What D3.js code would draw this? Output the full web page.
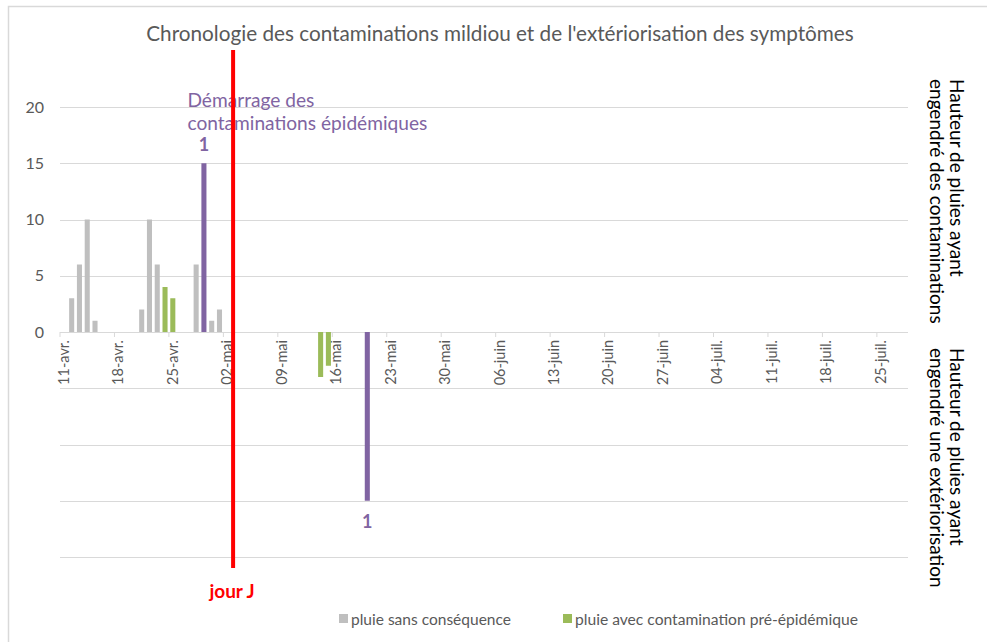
<!DOCTYPE html>
<html><head><meta charset="utf-8">
<script src="https://cdn.jsdelivr.net/npm/d3@7"></script>
<style>body{margin:0;background:#fff;} svg{display:block;font-family:Lato,"Open Sans",sans-serif;}</style>
</head><body>
<script>
// ---- data ----
const title = "Chronologie des contaminations mildiou et de l'extériorisation des symptômes";
const startDate = "2021-04-11", endDate = "2021-07-28";
const yTicks = [0, 5, 10, 15, 20];
const greyDates = ["2021-04-12","2021-04-13","2021-04-14","2021-04-15","2021-04-21","2021-04-22","2021-04-23","2021-04-28","2021-04-30","2021-05-01"];
const greyValues = [3, 6, 10, 1, 2, 10, 6, 6, 1, 2];
const greenDates = ["2021-04-24","2021-04-25"];
const greenValues = [4, 3];
const purpleDates = ["2021-04-29"];
const purpleValues = [15];
const greenExtDates = ["2021-05-14","2021-05-15"];
const greenExtValues = [4, 3];
const purpleExtDates = ["2021-05-20"];
const purpleExtValues = [15];
const jourJ = "2021-05-03";
const legendLabels = ["pluie sans conséquence", "pluie avec contamination pré-épidémique"];
const rightTitles = [["Hauteur de pluies ayant","engendré des contaminations"],["Hauteur de pluies ayant","engendré une extériorisation"]];
const moisFr = ["janv.","févr.","mars","avr.","mai","juin","juil.","août","sept.","oct.","nov.","déc."];

const C = {grey:"#BFBFBF", green:"#9BBB59", purple:"#8064A2", red:"#FF0000", text:"#595959", grid:"#D9D9D9"};

const W = 987, H = 642;
const svg = d3.select("body").append("svg").attr("width", W).attr("height", H);

const parse = d3.utcParse("%Y-%m-%d");
const days = d3.utcDay.range(parse(startDate), d3.utcDay.offset(parse(endDate), 1));
const key = d => d3.utcFormat("%Y-%m-%d")(d);
const x = d3.scaleBand().domain(days.map(key)).range([60, 908]).paddingInner(0.35).paddingOuter(0.175);
const y = d3.scaleLinear().domain([-20, 20]).range([557, 107]);

function fit(sel, target) {
  const w = sel.node().getComputedTextLength();
  const fs = parseFloat(sel.style("font-size"));
  sel.style("font-size", (fs * target / w).toFixed(2) + "px");
}

// chart border (top & left)
svg.append("path").attr("d", "M8.5,642 V6.5 H987").attr("fill","none").attr("stroke", "#D9D9D9").attr("stroke-width", 1.5);

// gridlines
const gridVals = [-20,-15,-10,-5,5,10,15,20];
svg.append("g").selectAll("line").data(gridVals).join("line")
  .attr("x1", 60).attr("x2", 908).attr("y1", d => Math.round(y(d))+0.5).attr("y2", d => Math.round(y(d))+0.5)
  .attr("stroke", C.grid).attr("stroke-width", 1);

// y labels (top only)
svg.append("g").selectAll("text").data(yTicks).join("text")
  .attr("x", 44).attr("y", d => y(d)).attr("dy", "0.35em").attr("text-anchor","end")
  .attr("fill", C.text).style("font-size","16px").text(d => d);

// x axis line and ticks
const x0 = y(0);
svg.append("line").attr("x1",60).attr("x2",908).attr("y1",Math.round(x0)+0.5).attr("y2",Math.round(x0)+0.5).attr("stroke",C.grid);
const weekly = days.filter((d,i) => i % 7 === 0);
svg.append("g").selectAll("line").data(weekly).join("line")
  .attr("x1", d => x(key(d)) - (x.step()-x.bandwidth())/2).attr("x2", d => x(key(d)) - (x.step()-x.bandwidth())/2)
  .attr("y1", Math.round(x0)).attr("y2", Math.round(x0)+5).attr("stroke", C.grid);
svg.append("g").selectAll("text").data(weekly).join("text")
  .attr("transform", d => `translate(${x(key(d)) + x.bandwidth()/2 + 5},${x0 + 8}) rotate(-90)`)
  .attr("text-anchor","end").attr("fill", C.text).style("font-size","14.5px")
  .text(d => d3.utcFormat("%d")(d) + "-" + moisFr[d.getUTCMonth()]);

// bars
function bars(dates, vals, color, sign) {
  svg.append("g").selectAll("rect").data(dates.map((d,i)=>({d, v: vals[i]}))).join("rect")
    .attr("x", d => x(d.d)).attr("width", x.bandwidth())
    .attr("y", d => sign > 0 ? y(d.v) : y(0))
    .attr("height", d => Math.abs(y(sign*d.v) - y(0)))
    .attr("fill", color);
}
bars(greyDates, greyValues, C.grey, 1);
bars(greenDates, greenValues, C.green, 1);
bars(purpleDates, purpleValues, C.purple, 1);
bars(greenExtDates, greenExtValues, C.green, -1);
bars(purpleExtDates, purpleExtValues, C.purple, -1);

// data labels "1"
const cx = k => x(k) + x.bandwidth()/2;
svg.append("text").attr("x", cx(purpleDates[0])).attr("y", y(purpleValues[0]) - 12)
  .attr("text-anchor","middle").attr("fill", C.purple).style("font-size","18px").style("font-weight","bold").text("1");
svg.append("text").attr("x", cx(purpleExtDates[0])).attr("y", y(-purpleExtValues[0]) + 27)
  .attr("text-anchor","middle").attr("fill", C.purple).style("font-size","18px").style("font-weight","bold").text("1");

// annotation
const annX = cx(purpleDates[0]) - 16.5;
const a1 = svg.append("text").attr("fill", C.purple).attr("x", annX).attr("y", 107).style("font-size","18px").text("Démarrage des");
const a2 = svg.append("text").attr("fill", C.purple).attr("x", annX).attr("y", 130).style("font-size","18px").text("contaminations épidémiques");
fit(a2, 240);
a1.style("font-size", a2.style("font-size"));

// red line jour J
const jx = x(jourJ) - (x.step()-x.bandwidth())/2 + x.step()*0.25;
svg.append("line").attr("x1", jx).attr("x2", jx).attr("y1", 50).attr("y2", 568)
  .attr("stroke", C.red).attr("stroke-width", 4);
svg.append("text").attr("x", jx - 1).attr("y", 598).attr("text-anchor","middle")
  .attr("fill", C.red).style("font-size","19px").style("font-weight","bold").text("jour J");

// title
const t = svg.append("text").attr("x", 500).attr("y", 41).attr("text-anchor","middle")
  .attr("fill", C.text).style("font-size","19px").text(title);
fit(t, 708);

// right titles
const rt = [79, 348];
rightTitles.forEach((lines, i) => {
  const g = svg.append("g").attr("transform", `translate(950,${rt[i]}) rotate(90)`);
  lines.forEach((l, j) => {
    g.append("text").attr("x", 0).attr("y", j * 20).attr("fill", "#000").style("font-size","19px").text(l);
  });
});

// legend
const legCols = [C.grey, C.green];
const legX = [339, 563];
const legW = [160, 283];
legendLabels.forEach((l, i) => {
  svg.append("rect").attr("x", legX[i]).attr("y", 614).attr("width", 9).attr("height", 9).attr("fill", legCols[i]);
  const lt = svg.append("text").attr("x", legX[i] + 12).attr("y", 625).attr("fill", C.text).style("font-size","15.5px").text(l);
  fit(lt, legW[i]);
});
</script>
</body></html>
